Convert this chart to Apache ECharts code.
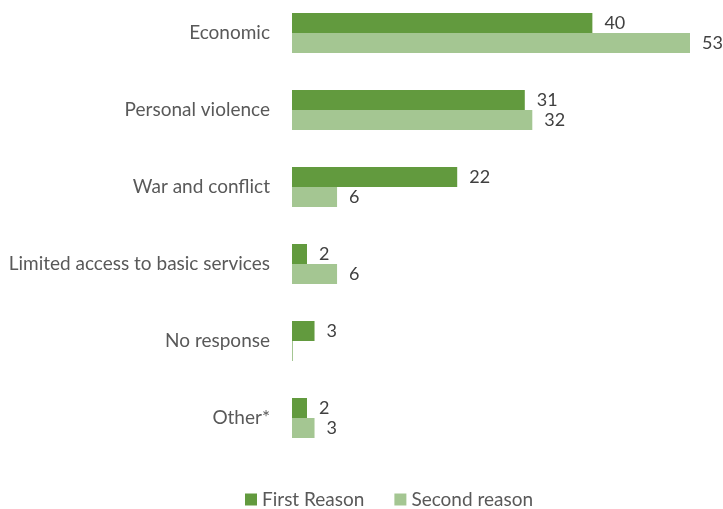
<!DOCTYPE html>
<html><head><meta charset="utf-8">
<script src="https://cdn.jsdelivr.net/npm/echarts@6/dist/echarts.min.js"></script>
<style>html,body{margin:0;padding:0;background:#fff;overflow:hidden}#c{position:absolute;left:0;top:-6px;width:723px;height:515px}</style>
</head><body><div id="c"></div>
<script>
const categories = ["Economic","Personal violence","War and conflict","Limited access to basic services","No response","Other*"];
const firstReason = [40,31,22,2,3,2];
const secondReason = [53,32,6,6,0,3];
const seriesNames = ["First Reason","Second reason"];

const font = "Lato, 'Open Sans', sans-serif";
const lbl = {show:true, position:'right', distance:12, color:'#404040', fontSize:18, fontFamily:font,
  formatter: p => p.value === 0 ? '' : String(p.value)};
const chart = echarts.init(document.getElementById('c'));
chart.setOption({
  animation:false,
  grid:{left:292, width:398, top:0.5, height:462, containLabel:false},
  legend:{left:240, top:491, itemWidth:12, itemHeight:12, itemGap:30, icon:'rect',
    textStyle:{color:'#595959', fontSize:19, fontFamily:font}, data:seriesNames},
  xAxis:{type:'value', min:0, max:53, show:false},
  yAxis:{type:'category', data:categories, inverse:true,
    axisLine:{show:false}, axisTick:{show:false},
    axisLabel:{color:'#595959', fontSize:19, fontFamily:font, margin:22}},
  series:[
    {name:seriesNames[0], type:'bar', data:firstReason, barWidth:20, barGap:'0%',
     itemStyle:{color:'#629a3e'}, label:lbl},
    {name:seriesNames[1], type:'bar', data:secondReason, barWidth:20, barGap:'0%', barMinHeight:1,
     itemStyle:{color:'#a4c692'}, label:lbl}
  ]
});
</script></body></html>
